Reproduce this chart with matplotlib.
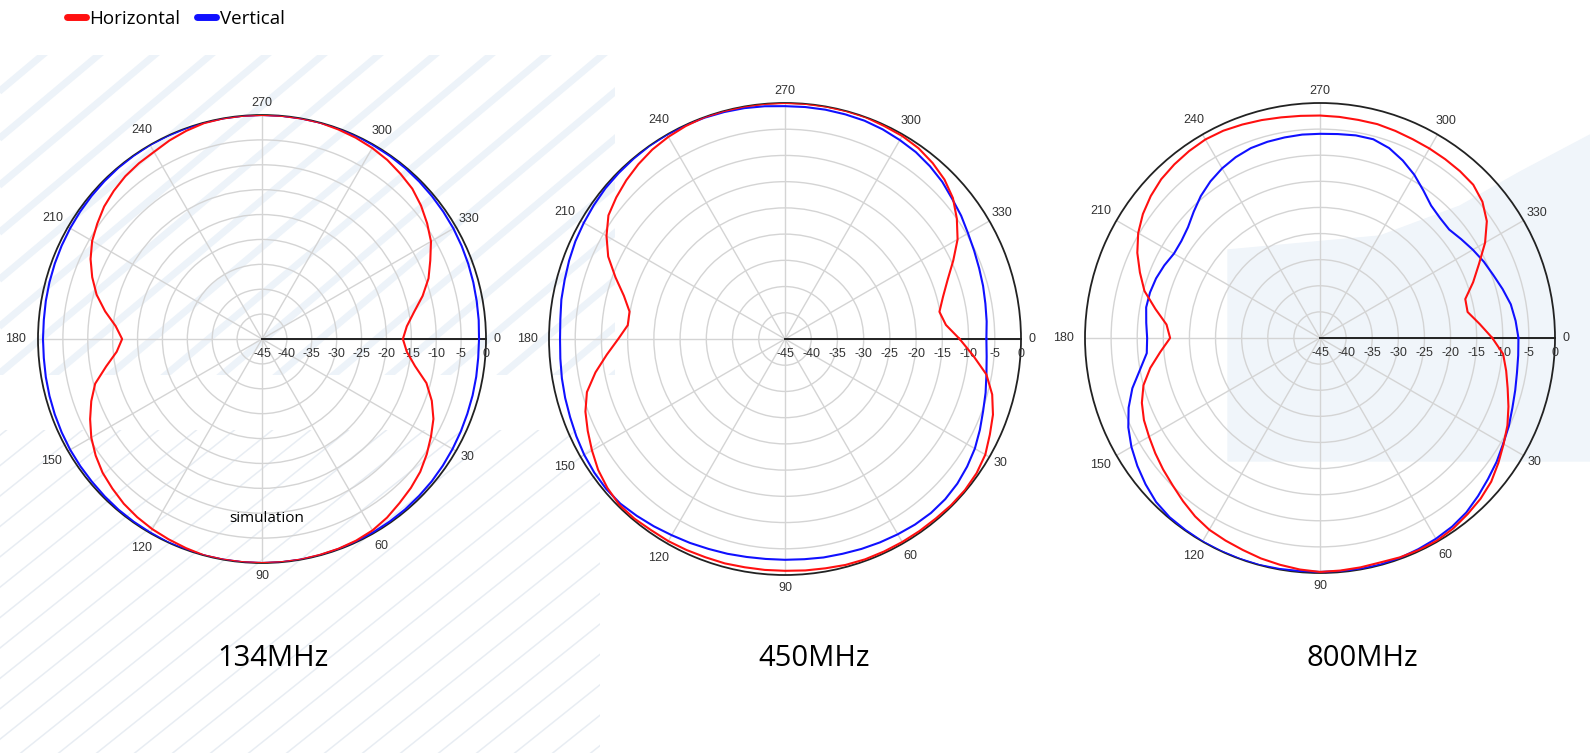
import numpy as np
import matplotlib
matplotlib.use("Agg")
import matplotlib.pyplot as plt
from matplotlib.lines import Line2D

# angles in degrees, 0 = east, counted clockwise (90 at the bottom)
angles = list(range(0, 360, 5))

# 134MHz
h134 = [-16.7, -15.8, -13.8, -10.8, -8.7, -7.0, -5.8, -4.6, -3.5, -2.7,
        -2.0, -1.2, -0.6, -0.3, -0.15, -0.1, 0, 0, 0, 0,
        0, 0, -0.3, -0.6, -0.9, -1.3, -1.8, -2.5, -3.2, -4.2,
        -5.4, -6.9, -8.5, -10.3, -13.2, -15.7, -16.9, -15.5, -13.0, -10.6,
        -8.7, -7.0, -5.6, -4.6, -3.6, -2.9, -2.3, -1.9, -1.6, -1.0,
        -0.5, -0.1, 0, 0, 0, 0, 0, 0, -0.2, -0.4,
        -0.7, -1.1, -1.7, -2.3, -3.3, -4.5, -5.8, -7.7, -9.4, -11.6,
        -14.0, -15.8]
v134 = [-1.4, -1.4, -1.3, -1.2, -1.1, -0.95, -0.8, -0.65, -0.5, -0.4,
        -0.3, -0.25, -0.2, -0.15, -0.1, -0.05, 0, 0, 0, 0,
        0, 0, 0, 0, -0.1, -0.15, -0.2, -0.3, -0.4, -0.45,
        -0.5, -0.6, -0.7, -0.8, -0.9, -1.0, -1.0, -1.0, -0.9, -0.8,
        -0.7, -0.6, -0.5, -0.4, -0.3, -0.2, -0.1, -0.05, 0, 0,
        0, 0, 0, 0, 0, 0, 0, 0, 0, 0,
        -0.1, -0.15, -0.2, -0.3, -0.4, -0.5, -0.6, -0.75, -0.9, -1.05,
        -1.2, -1.3]

# 450MHz
h450 = [-11.7, -9.0, -6.0, -4.1, -2.8, -1.9, -0.9, -0.4, -0.2, -0.2,
        -0.3, -0.3, -0.3, -0.3, -0.3, -0.4, -0.6, -0.7, -0.8, -0.8,
        -0.8, -0.7, -0.7, -0.6, -0.5, -0.5, -0.3, -0.3, -0.8, -1.5,
        -2.5, -3.5, -4.5, -5.9, -8.3, -10.9, -13.2, -14.9, -14.9, -13.2,
        -10.6, -7.8, -5.7, -3.9, -3.0, -2.2, -1.5, -0.9, -0.5, -0.2,
        0, 0, 0, 0, 0, 0, 0, 0, 0, -0.2,
        -0.3, -0.6, -1.2, -2.0, -3.2, -5.0, -7.0, -9.6, -12.0, -13.8,
        -15.1, -14.2]
v450 = [-6.6, -6.4, -6.0, -5.4, -4.8, -4.0, -3.2, -2.6, -2.1, -1.8,
        -1.7, -1.8, -2.0, -2.2, -2.4, -2.6, -2.7, -2.85, -2.9, -2.9,
        -2.8, -2.6, -2.4, -2.1, -1.8, -1.4, -1.0, -0.6, -0.5, -0.6,
        -0.8, -1.1, -1.4, -1.6, -1.8, -2.0, -2.1, -2.0, -1.7, -1.5,
        -1.2, -0.9, -0.7, -0.5, -0.3, -0.2, -0.1, 0, 0, -0.05,
        -0.1, -0.2, -0.3, -0.45, -0.6, -0.6, -0.6, -0.65, -0.7, -0.9,
        -1.2, -1.5, -2.0, -2.6, -3.4, -4.0, -4.7, -5.2, -5.6, -5.9,
        -6.2, -6.4]

# 800MHz
h800 = [-12.0, -9.8, -8.8, -7.8, -6.6, -5.4, -4.4, -3.3, -2.2, -1.5,
        -1.0, -0.5, -0.2, -0.2, -0.3, -0.5, -0.4, -0.3, -0.2, -0.5,
        -0.9, -1.3, -1.8, -2.2, -2.6, -3.3, -4.2, -5.1, -5.8, -6.5,
        -7.2, -7.8, -8.7, -10.0, -12.0, -14.3, -16.3, -15.5, -13.0, -10.2,
        -8.3, -6.4, -4.8, -3.6, -2.7, -2.0, -1.6, -1.3, -1.1, -1.2,
        -1.5, -1.8, -2.1, -2.3, -2.4, -2.5, -2.6, -2.6, -2.8, -3.0,
        -3.1, -3.2, -3.3, -3.5, -4.4, -6.0, -8.5, -11.4, -13.8, -16.2,
        -16.3, -14.3]
v800 = [-7.0, -6.9, -6.7, -6.3, -5.8, -5.1, -4.5, -3.7, -3.0, -2.2,
        -1.4, -0.9, -0.6, -0.4, -0.2, -0.1, -0.1, -0.2, -0.2, -0.2,
        -0.1, 0, 0, 0, 0, -0.1, -0.2, -0.6, -1.4, -2.3,
        -3.3, -4.5, -6.0, -7.8, -10.0, -11.7, -11.9, -11.6, -11.2, -11.3,
        -11.6, -12.1, -12.7, -12.6, -12.0, -10.8, -9.5, -8.4, -7.5, -6.8,
        -6.3, -6.1, -6.0, -5.9, -5.9, -5.8, -5.6, -5.6, -6.3, -7.5,
        -8.9, -10.5, -11.9, -12.5, -12.7, -12.0, -11.2, -10.4, -9.7, -8.8,
        -7.9, -7.4]

freqs = ["134MHz", "450MHz", "800MHz"]
horiz = [h134, h450, h800]
vert = [v134, v450, v800]

theta_ticks = list(range(0, 360, 30))
r_ticks = [-45, -40, -35, -30, -25, -20, -15, -10, -5, 0]

W, H = 1590, 753
# centre x, centre y, radius in pixels
layout = [(262, 339, 224), (785, 339, 236), (1320, 338, 235)]
title_x = [273, 814, 1362]
# gap (px) between outer circle and each angle label centre
label_gap = [11, 13, 15, 13, 17, 19, 22, 18, 17, 12, 16, 15]

fig = plt.figure(figsize=(W / 100, H / 100), dpi=100)
fig.patch.set_facecolor("white")

# faint background decoration
bg = fig.add_axes([0, 0, 1, 1], zorder=-5)
bg.set_xlim(0, W)
bg.set_ylim(H, 0)
bg.axis("off")
clip_top = plt.Rectangle((0, 55), 615, 320, transform=bg.transData)
for k in range(-10, 14):
    x0 = k * 56
    ln, = bg.plot([x0, x0 + 500], [420, 0], color="#edf3f9", lw=5,
                  solid_capstyle="butt", zorder=1)
    ln.set_clip_path(clip_top)
clip_low = plt.Rectangle((0, 430), 600, 330, transform=bg.transData)
for k in range(-12, 20):
    x0 = k * 38
    ln, = bg.plot([x0, x0 + 500], [800, 400], color="#e8edf3", lw=1.1,
                  zorder=1)
    ln.set_clip_path(clip_low)
bg.add_patch(plt.Polygon([(1228, 250), (1380, 236), (1460, 206), (1520, 172),
                          (1590, 135), (1590, 461), (1228, 461)], closed=True,
                         color="#f0f5fa", zorder=1))

def close(a, r):
    return np.deg2rad(list(a) + [a[0]]), list(r) + [r[0]]

for i, (cx, cy, R) in enumerate(layout):
    rect = [(cx - R) / W, 1 - (cy + R) / H, 2 * R / W, 2 * R / H]
    ax = fig.add_axes(rect, projection="polar")
    ax.patch.set_alpha(0)
    ax.set_theta_zero_location("E")
    ax.set_theta_direction(-1)
    ax.set_ylim(-45, 0)
    ax.set_thetagrids(theta_ticks, [""] * len(theta_ticks))
    ax.set_rgrids(r_ticks[1:-1], labels=[])
    ax.grid(color="#d4d4d4", lw=1.0)
    ax.spines["polar"].set_color("#222222")
    ax.spines["polar"].set_linewidth(1.3)

    for t, g in zip(theta_ticks, label_gap):
        a = np.deg2rad(t)
        ax.annotate(str(t), xy=(a, 0),
                    xytext=(g * 0.72 * np.cos(a), -g * 0.72 * np.sin(a)),
                    textcoords="offset points", ha="center", va="center",
                    fontsize=9, color="#333333", family="Liberation Sans",
                    annotation_clip=False)

    ax.plot([0, 0], [-45, 0], color="#222222", lw=1.4, zorder=3)
    for v in r_ticks:
        ax.annotate(str(v), xy=(0, v), xytext=(0, -11), textcoords="offset points",
                    ha="center", va="center", fontsize=9, color="#333333",
                    family="Liberation Sans")

    t, r = close(angles, horiz[i])
    ax.plot(t, r, color="#ff1010", lw=1.5, zorder=5)
    t, r = close(angles, vert[i])
    ax.plot(t, r, color="#1010ff", lw=1.5, zorder=4)

    fig.text(title_x[i] / W, 1 - 659 / H, freqs[i], ha="center", va="center",
             fontsize=21, family="Open Sans", color="black")

fig.text(267 / W, 1 - 519 / H, "simulation", ha="center", va="center",
         fontsize=11, family="Open Sans", color="black")

handles = [Line2D([], [], color="#ff1010", lw=5, solid_capstyle="round"),
           Line2D([], [], color="#1010ff", lw=5, solid_capstyle="round")]
fig.legend(handles, ["Horizontal", "Vertical"], loc="center left",
           bbox_to_anchor=(50 / W, 1 - 19 / H), ncol=2, frameon=False,
           handlelength=1.0, handletextpad=0.2, columnspacing=0.9,
           prop={"family": "Open Sans", "size": 13.5})

fig.savefig("out.png", dpi=100)
